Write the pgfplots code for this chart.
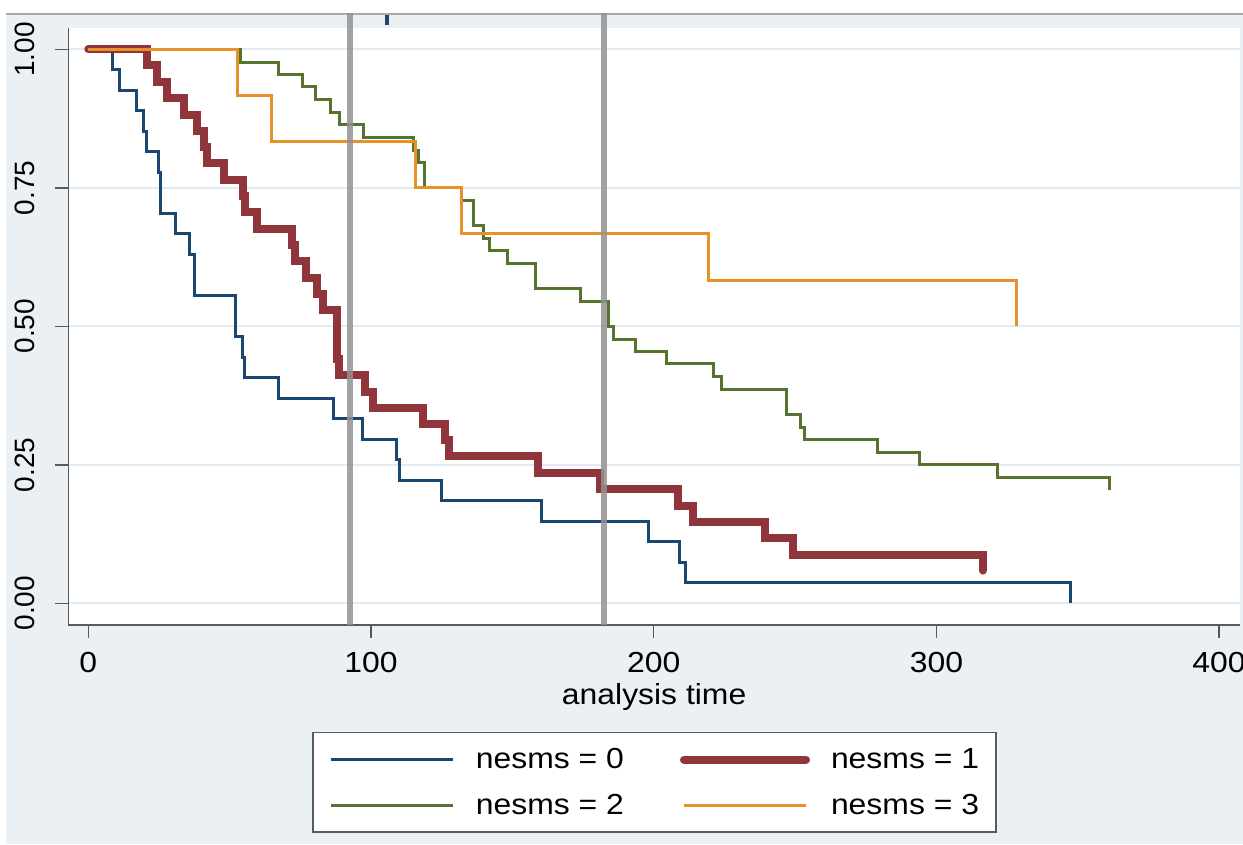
\documentclass[border=0pt]{standalone}
\usepackage{pgfplots}
\pgfplotsset{compat=1.18}
\usepackage{fontspec}
\setmainfont{Liberation Sans}[FakeStretch=1.1]
\newfontfamily\rotfont{Liberation Sans}
\definecolor{bgc}{HTML}{EAF0F3}
\definecolor{bordc}{HTML}{A8ABAD}
\definecolor{axc}{HTML}{555B60}
\definecolor{gridc}{HTML}{E3EBEF}
\definecolor{c0}{HTML}{1A476F}
\definecolor{c1}{HTML}{90353B}
\definecolor{c2}{HTML}{55752F}
\definecolor{c3}{HTML}{E8902A}
\definecolor{xl}{HTML}{929292}
\newcommand{\bigf}{\fontsize{29}{34}\selectfont}
\newcommand{\yl}[1]{{\rotfont\fontsize{28}{32}\selectfont #1}}
\begin{document}
\begin{tikzpicture}[x=1pt,y=1pt]
\useasboundingbox (0,0) rectangle (1243,844);
\fill[white] (0,0) rectangle (1243,844);
\fill[bgc] (6,0) rectangle (1243,830);
\draw[line width=1.2pt, bordc] (6,830) -- (1243,830);
\begin{axis}[
  at={(68.3pt,219pt)}, anchor=south west,
  scale only axis, width=1171.7pt, height=597pt,
  xmin=-7.07, xmax=407.4, ymin=-0.0392, ymax=1.0385,
  clip=false,
  axis background/.style={fill=white},
  axis x line*=bottom, axis y line*=left,
  axis line style={line width=1.5pt, color=axc},
  xtick={0,100,200,300,400}, xticklabels={0,100,200,300,400},
  ytick={0,0.25,0.5,0.75,1},
  yticklabels={\yl{0.00},\yl{0.25},\yl{0.50},\yl{0.75},\yl{1.00}},
  tick align=outside, major tick length=13pt,
  tick style={line width=1.5pt, color=axc},
  ymajorgrids, grid style={line width=2pt, color=gridc},
  xticklabel style={font=\bigf, anchor=north, inner sep=0pt, yshift=-14pt},
  yticklabel style={xshift=-20pt, rotate=90, anchor=south, inner sep=0pt},
  xlabel={analysis time},
  xlabel style={font=\bigf, at={(axis description cs:0.5,0)}, anchor=north, inner sep=0pt, yshift=-58pt},
  legend columns=2,
  legend cell align=left,
  legend image code/.code={\draw[#1] (0pt,0pt) -- (122pt,0pt);},
  legend style={at={(0.5003,-0.1792)}, anchor=north, draw=axc, line width=1.5pt, fill=white,
    font=\bigf, inner xsep=17pt, inner ysep=16pt, row sep=24pt,
    nodes={inner sep=0pt},
    /tikz/every odd column/.append style={column sep=21pt},
    /tikz/every even column/.append style={column sep=56pt}},
]
\addplot[c0, line width=3pt, const plot mark left] coordinates {
(0,1) (8.6,0.963) (11.0,0.926) (17.1,0.889) (19.5,0.852) (20.7,0.815) (25.0,0.778) (25.6,0.704) (31.0,0.667) (35.7,0.630) (37.7,0.556) (51.9,0.481) (54.6,0.444) (55.4,0.407) (67.2,0.370) (86.9,0.333) (97.1,0.296) (109.1,0.259) (110.0,0.222) (125.0,0.185) (160.4,0.148) (198.1,0.111) (209.3,0.074) (211.1,0.037) (347.3,0.0)};
\addlegendentry{nesms = 0}
\addplot[c1, line width=8pt, line cap=round, const plot mark left] coordinates {
(0,1) (20.9,0.971) (24.2,0.941) (27.9,0.912) (34.0,0.882) (38.3,0.853) (40.9,0.824) (41.9,0.794) (48.0,0.765) (54.8,0.735) (55.4,0.706) (59.6,0.676) (71.9,0.647) (73.1,0.618) (77.0,0.588) (80.8,0.559) (83.1,0.529) (87.9,0.441) (88.8,0.412) (97.9,0.382) (100.8,0.353) (118.3,0.324) (126.2,0.294) (127.7,0.265) (159.2,0.235) (181.0,0.206) (208.7,0.176) (214.0,0.147) (239.4,0.118) (249.4,0.088) (316.4,0.059)};
\addlegendentry{nesms = 1}
\addplot[c2, line width=3pt, const plot mark left] coordinates {
(0,1) (53.7,0.977) (67.2,0.955) (75.8,0.932) (80.2,0.909) (85.7,0.886) (88.8,0.864) (97.3,0.841) (115.2,0.818) (116.7,0.795) (119.1,0.750) (132.1,0.727) (136.2,0.682) (139.7,0.659) (141.8,0.636) (148.2,0.614) (158.3,0.568) (174.2,0.545) (183.9,0.500) (185.7,0.477) (193.4,0.455) (204.4,0.432) (221.1,0.409) (224.1,0.386) (247.0,0.341) (252.1,0.318) (253.2,0.295) (279.2,0.273) (294.2,0.250) (321.5,0.227) (361.4,0.205)};
\addlegendentry{nesms = 2}
\addplot[c3, line width=3pt, const plot mark left] coordinates {
(0,1) (52.7,0.917) (64.9,0.833) (115.9,0.750) (132.1,0.667) (219.3,0.583) (328.4,0.500)};
\addlegendentry{nesms = 3}
\addplot[forget plot, xl, line width=6pt, opacity=0.85] coordinates {(92.5,-0.0392) (92.5,1.066)};
\addplot[forget plot, xl, line width=6pt, opacity=0.85] coordinates {(182.5,-0.0392) (182.5,1.066)};
\addplot[forget plot, c0, line width=3.5pt] coordinates {(105.7,1.044) (105.7,1.062)};
\end{axis}
\end{tikzpicture}
\end{document}
